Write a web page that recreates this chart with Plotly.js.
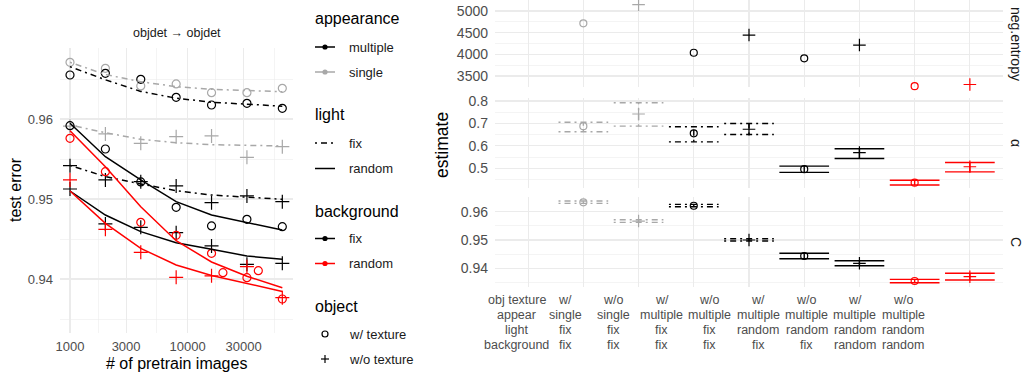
<!DOCTYPE html>
<html><head><meta charset="utf-8">
<script src="https://cdn.plot.ly/plotly-3.0.1.min.js"></script>
<style>html,body{margin:0;padding:0;background:#fff}#chart{width:1024px;height:372px}</style>
</head><body><div id="chart"></div>
<script>
// ---------------- DATA: left panel (objdet -> objdet) ----------------
const pretrainImages     = [1000, 2000, 4000, 8000, 16000, 32000, 64000];
const pretrainImagesRedW = [1000, 2000, 4000, 8000, 16000, 20000, 32000, 40000, 64000];

// observed test error (points)
const obsSingleFixFixW   = [0.96709, 0.96634, 0.96413, 0.96438, 0.96329, 0.96329, 0.96384];
const obsSingleFixFixWo  = [0.95910, 0.95813, 0.95696, 0.95779, 0.95788, 0.95521, 0.95654];
const obsMultiFixFixW    = [0.96550, 0.96571, 0.96496, 0.96271, 0.96175, 0.96196, 0.96134];
const obsMultiFixFixWo   = [0.95416, 0.95238, 0.95217, 0.95163, 0.94954, 0.95038, 0.94967];
const obsMultiRandFixW   = [0.95916, 0.95625, 0.95213, 0.94896, 0.94663, 0.94746, 0.94654];
const obsMultiRandFixWo  = [0.95125, 0.94688, 0.94646, 0.94579, 0.94413, 0.94184, 0.94196];
const obsMultiRandRandW  = [0.95759, 0.95341, 0.94709, 0.94546, 0.94321, 0.94079, 0.94016, 0.94104, 0.93750];
const obsMultiRandRandWo = [0.95238, 0.94621, 0.94333, 0.94021, 0.94040, 0.94154, 0.93766];

// fitted curves (lines)
const fitSingleFixFixW   = [0.96709, 0.96556, 0.96466, 0.96404, 0.96371, 0.96354, 0.96341];
const fitSingleFixFixWo  = [0.95925, 0.95829, 0.95746, 0.95704, 0.95679, 0.95667, 0.95663];
const fitMultiFixFixW    = [0.96654, 0.96490, 0.96345, 0.96260, 0.96210, 0.96185, 0.96160];
const fitMultiFixFixWo   = [0.95420, 0.95279, 0.95188, 0.95104, 0.95050, 0.95021, 0.94996];
const fitMultiRandFixW   = [0.95946, 0.95529, 0.95238, 0.94967, 0.94800, 0.94710, 0.94613];
const fitMultiRandFixWo  = [0.95100, 0.94800, 0.94592, 0.94454, 0.94371, 0.94288, 0.94246];
const fitMultiRandRandW  = [0.95854, 0.95404, 0.94904, 0.94479, 0.94213, 0.94035, 0.93890];
const fitMultiRandRandWo = [0.95100, 0.94696, 0.94383, 0.94175, 0.94045, 0.93945, 0.93845];

const leftTicks = [1000, 3000, 10000, 30000];
const leftTickText = ['1000', '3000', '10000', '30000'];
const leftMinor = [1732, 5477, 17321, 54772];

// ---------------- DATA: right panel (estimates) ----------------
const rowHeaders = ['obj texture', 'appear', 'light', 'background'];
const objTexture = ['w/', 'w/o', 'w/', 'w/o', 'w/', 'w/o', 'w/', 'w/o'];
const appearLab  = ['single', 'single', 'multiple', 'multiple', 'multiple', 'multiple', 'multiple', 'multiple'];
const lightLab   = ['fix', 'fix', 'fix', 'fix', 'random', 'random', 'random', 'random'];
const bgLab      = ['fix', 'fix', 'fix', 'fix', 'fix', 'fix', 'random', 'random'];

const negEntropy = [4716, 5145, 4037, 4445, 3908, 4214, 3265, 3304];
const alphaEst = [0.688, 0.742, 0.656, 0.674, 0.496, 0.570, 0.436, 0.507];
const alphaLo  = [0.663, 0.688, 0.618, 0.651, 0.482, 0.544, 0.426, 0.484];
const alphaHi  = [0.705, 0.792, 0.685, 0.700, 0.510, 0.587, 0.447, 0.526];
const cEst = [0.96332, 0.95671, 0.96212, 0.95000, 0.94435, 0.94177, 0.93551, 0.93703];
const cLo  = [0.96296, 0.95625, 0.96177, 0.94965, 0.94339, 0.94088, 0.93490, 0.93587];
const cHi  = [0.96378, 0.95717, 0.96261, 0.95046, 0.94530, 0.94265, 0.93610, 0.93823];

// ---------------- STYLE ----------------
const W = 1024, H = 372;
const px = x => x / W, py = y => 1 - y / H;
const GRAY = '#a8a8a8', BLACK = '#000000', RED = '#ff0000';
const DASHDOT = '2px,4px,6px,4px';
const GRID = '#ebebeb', TICKC = '#4d4d4d', TXT = '#1a1a1a';

function colorOf(appear, bg) { return appear === 'single' ? GRAY : (bg === 'random' ? RED : BLACK); }
function dashOf(light) { return light === 'fix' ? DASHDOT : 'solid'; }
function symOf(tex) { return tex === 'w/' ? 'circle-open' : 'cross-thin-open'; }

const leftSeries = [
  {x: pretrainImages, obs: obsSingleFixFixW, fit: fitSingleFixFixW, tex: 'w/', appear: 'single', light: 'fix', bg: 'fix'},
  {x: pretrainImages, obs: obsSingleFixFixWo, fit: fitSingleFixFixWo, tex: 'w/o', appear: 'single', light: 'fix', bg: 'fix'},
  {x: pretrainImages, obs: obsMultiFixFixW, fit: fitMultiFixFixW, tex: 'w/', appear: 'multiple', light: 'fix', bg: 'fix'},
  {x: pretrainImages, obs: obsMultiFixFixWo, fit: fitMultiFixFixWo, tex: 'w/o', appear: 'multiple', light: 'fix', bg: 'fix'},
  {x: pretrainImages, obs: obsMultiRandFixW, fit: fitMultiRandFixW, tex: 'w/', appear: 'multiple', light: 'random', bg: 'fix'},
  {x: pretrainImages, obs: obsMultiRandFixWo, fit: fitMultiRandFixWo, tex: 'w/o', appear: 'multiple', light: 'random', bg: 'fix'},
  {x: pretrainImagesRedW, obs: obsMultiRandRandW, fit: fitMultiRandRandW, tex: 'w/', appear: 'multiple', light: 'random', bg: 'random'},
  {x: pretrainImages, obs: obsMultiRandRandWo, fit: fitMultiRandRandWo, tex: 'w/o', appear: 'multiple', light: 'random', bg: 'random'}
];

const traces = [];
leftSeries.forEach(s => {
  const c = colorOf(s.appear, s.bg);
  traces.push({type: 'scatter', mode: 'markers', x: s.x, y: s.obs, xaxis: 'x', yaxis: 'y', cliponaxis: false,
    marker: {symbol: symOf(s.tex), size: s.tex === 'w/' ? 8 : 10, color: c, line: {color: c, width: 1.2}},
    showlegend: false, hoverinfo: 'skip'});
});
leftSeries.forEach(s => {
  const c = colorOf(s.appear, s.bg);
  traces.push({type: 'scatter', mode: 'lines', x: pretrainImages, y: s.fit, xaxis: 'x', yaxis: 'y',
    line: {color: c, width: 1.5, dash: dashOf(s.light)}, showlegend: false, hoverinfo: 'skip'});
});

// right panels
const cols = objTexture.map((t, i) => ({
  i, x: i + 1, color: colorOf(appearLab[i], bgLab[i]), dash: dashOf(lightLab[i]), sym: symOf(t), tex: t
}));
function errTrace(col, lo, hi, yaxis) {
  const xc = col.x, i = col.i;
  return {type: 'scatter', mode: 'lines', xaxis: 'x2', yaxis, cliponaxis: false,
    x: [xc - 0.45, xc + 0.45, null, xc - 0.45, xc + 0.45, null, xc, xc],
    y: [hi[i], hi[i], null, lo[i], lo[i], null, lo[i], hi[i]],
    line: {color: col.color, width: 1.4, dash: col.dash}, showlegend: false, hoverinfo: 'skip'};
}
function ptTrace(col, vals, yaxis) {
  return {type: 'scatter', mode: 'markers', xaxis: 'x2', yaxis, x: [col.x], y: [vals[col.i]], cliponaxis: false,
    marker: {symbol: col.sym, size: col.tex === 'w/' ? 7 : 9, color: col.color, line: {color: col.color, width: 1.2}},
    showlegend: false, hoverinfo: 'skip'};
}
cols.forEach(col => {
  traces.push(ptTrace(col, negEntropy, 'y2'));
  traces.push(errTrace(col, alphaLo, alphaHi, 'y3'));
  traces.push(ptTrace(col, alphaEst, 'y3'));
  traces.push(errTrace(col, cLo, cHi, 'y4'));
  traces.push(ptTrace(col, cEst, 'y4'));
});

// ---------------- LAYOUT ----------------
const yAxisCommon = {showgrid: true, gridcolor: GRID, gridwidth: 1.1, zeroline: false, showline: false, ticks: '',
  tickfont: {size: 14, color: TICKC}, ticklabelstandoff: 6};
const layout = {
  width: W, height: H, margin: {l: 0, r: 0, t: 0, b: 0}, paper_bgcolor: '#fff', plot_bgcolor: '#fff',
  font: {family: 'Liberation Sans, Arial, sans-serif', color: TXT},
  showlegend: false,
  xaxis: {domain: [px(60), px(293)], anchor: 'y', type: 'log',
    range: [3 - 10 / 117.55, 3 + 223 / 117.55],
    tickmode: 'array', tickvals: leftTicks, ticktext: leftTickText,
    showgrid: true, gridcolor: GRID, gridwidth: 1.1, zeroline: false, showline: false, ticks: '',
    minor: {tickmode: 'array', tickvals: leftMinor, showgrid: true, gridcolor: GRID, gridwidth: 0.55, ticks: ''},
    tickfont: {size: 13, color: TICKC}, ticklabelstandoff: 4},
  yaxis: Object.assign({}, yAxisCommon, {domain: [py(333), py(48)], anchor: 'x', range: [0.93325, 0.968875],
    tickmode: 'array', tickvals: [0.94, 0.95, 0.96], ticktext: ['0.94', '0.95', '0.96'],
    minor: {tickmode: 'array', tickvals: [0.935, 0.945, 0.955, 0.965], showgrid: true, gridcolor: GRID, gridwidth: 0.55, ticks: ''},
    tickfont: {size: 13, color: TICKC}}),
  xaxis2: {domain: [px(495), px(1003)], anchor: 'y4', range: [-0.6, 8.6],
    tickmode: 'array', tickvals: [0, 1, 2, 3, 4, 5, 6, 7, 8], showticklabels: false,
    showgrid: true, gridcolor: GRID, gridwidth: 1.1, zeroline: false, showline: false, ticks: ''},
  yaxis2: Object.assign({}, yAxisCommon, {domain: [py(87.3), 1], anchor: 'x2', range: [3239, 5254],
    tickmode: 'array', tickvals: [3500, 4000, 4500, 5000],
    minor: {tickmode: 'array', tickvals: [3250, 3750, 4250, 4750, 5250], showgrid: true, gridcolor: GRID, gridwidth: 0.55, ticks: ''}}),
  yaxis3: Object.assign({}, yAxisCommon, {domain: [py(188.3), py(98.3)], anchor: 'x2', range: [0.411, 0.812],
    tickmode: 'array', tickvals: [0.5, 0.6, 0.7, 0.8], ticktext: ['0.5', '0.6', '0.7', '0.8'],
    minor: {tickmode: 'array', tickvals: [0.45, 0.55, 0.65, 0.75], showgrid: true, gridcolor: GRID, gridwidth: 0.55, ticks: ''}}),
  yaxis4: Object.assign({}, yAxisCommon, {domain: [py(286.7), py(197.3)], anchor: 'x2', range: [0.9335, 0.9651],
    tickmode: 'array', tickvals: [0.94, 0.95, 0.96], ticktext: ['0.94', '0.95', '0.96'],
    minor: {tickmode: 'array', tickvals: [0.935, 0.945, 0.955], showgrid: true, gridcolor: GRID, gridwidth: 0.55, ticks: ''}}),
  annotations: [],
  shapes: []
};

const ann = layout.annotations, shp = layout.shapes;
function text(t, x, y, size, opts) {
  ann.push(Object.assign({text: t, x: px(x), y: py(y), xref: 'paper', yref: 'paper', showarrow: false,
    xanchor: 'center', yanchor: 'middle', font: {size, color: TXT}}, opts || {}));
}
// titles & strips
text('objdet \u2192 objdet', 176.5, 33, 12.5);
text('test error', 15, 190, 16, {textangle: -90, font: {size: 16, color: '#000'}});
text('# of pretrain images', 176, 363, 16, {font: {size: 16, color: '#000'}});
text('estimate', 442, 145, 17.5, {textangle: -90, font: {size: 17.5, color: '#000'}});
text('neg.entropy', 1016, 44, 14, {textangle: 90});
text('\u03b1', 1016, 143, 14, {textangle: 90});
text('C', 1016, 242, 14, {textangle: 90});

// category table under right panel
const rowsY = [300, 315, 330, 345];
const rowsData = [objTexture, appearLab, lightLab, bgLab];
const tblFont = {size: 12.5, color: TICKC};
rowHeaders.forEach((h, r) => text(h, 516.5, rowsY[r], 12.5, {font: tblFont}));
rowsData.forEach((arr, r) => arr.forEach((v, i) => text(v, 565 + 48.3 * i, rowsY[r], 12.5, {font: tblFont})));

// legend
const LX0 = 315, LX1 = 335, LXC = 325, LTX = 346.5;
function legTitle(t, y) { text(t, 312.5, y, 16, {xanchor: 'left', font: {size: 16, color: '#000'}}); }
function legItem(t, y) { text(t, LTX, y, 13, {xanchor: 'left', font: {size: 13, color: TXT}}); }
function keyLine(y, color, dash) {
  shp.push({type: 'line', xref: 'paper', yref: 'paper', x0: px(LX0), x1: px(LX1), y0: py(y), y1: py(y),
    line: {color, width: 1.5, dash: dash || 'solid'}});
}
function keyDot(y, color) {
  shp.push({type: 'circle', xref: 'paper', yref: 'paper', x0: px(LXC - 2.6), x1: px(LXC + 2.6), y0: py(y + 2.6), y1: py(y - 2.6),
    fillcolor: color, line: {color, width: 0}});
}
legTitle('appearance', 18.5);
keyLine(47, BLACK); keyDot(47, BLACK); legItem('multiple', 47);
keyLine(72, GRAY); keyDot(72, GRAY); legItem('single', 72);
legTitle('light', 115);
keyLine(143, BLACK, DASHDOT); legItem('fix', 143);
keyLine(168.5, BLACK); legItem('random', 168.5);
legTitle('background', 211);
keyLine(238.5, BLACK); keyDot(238.5, BLACK); legItem('fix', 238.5);
keyLine(263.5, RED); keyDot(263.5, RED); legItem('random', 263.5);
legTitle('object', 306);
shp.push({type: 'circle', xref: 'paper', yref: 'paper', x0: px(LXC - 3), x1: px(LXC + 3), y0: py(334 + 3), y1: py(334 - 3),
  line: {color: BLACK, width: 1.2}});
legItem('w/ texture', 334);
shp.push({type: 'line', xref: 'paper', yref: 'paper', x0: px(LXC - 4), x1: px(LXC + 4), y0: py(359), y1: py(359), line: {color: BLACK, width: 1.2}});
shp.push({type: 'line', xref: 'paper', yref: 'paper', x0: px(LXC), x1: px(LXC), y0: py(355), y1: py(363), line: {color: BLACK, width: 1.2}});
legItem('w/o texture', 359);

Plotly.newPlot('chart', traces, layout, {staticPlot: true, displayModeBar: false});
</script>
</body></html>
